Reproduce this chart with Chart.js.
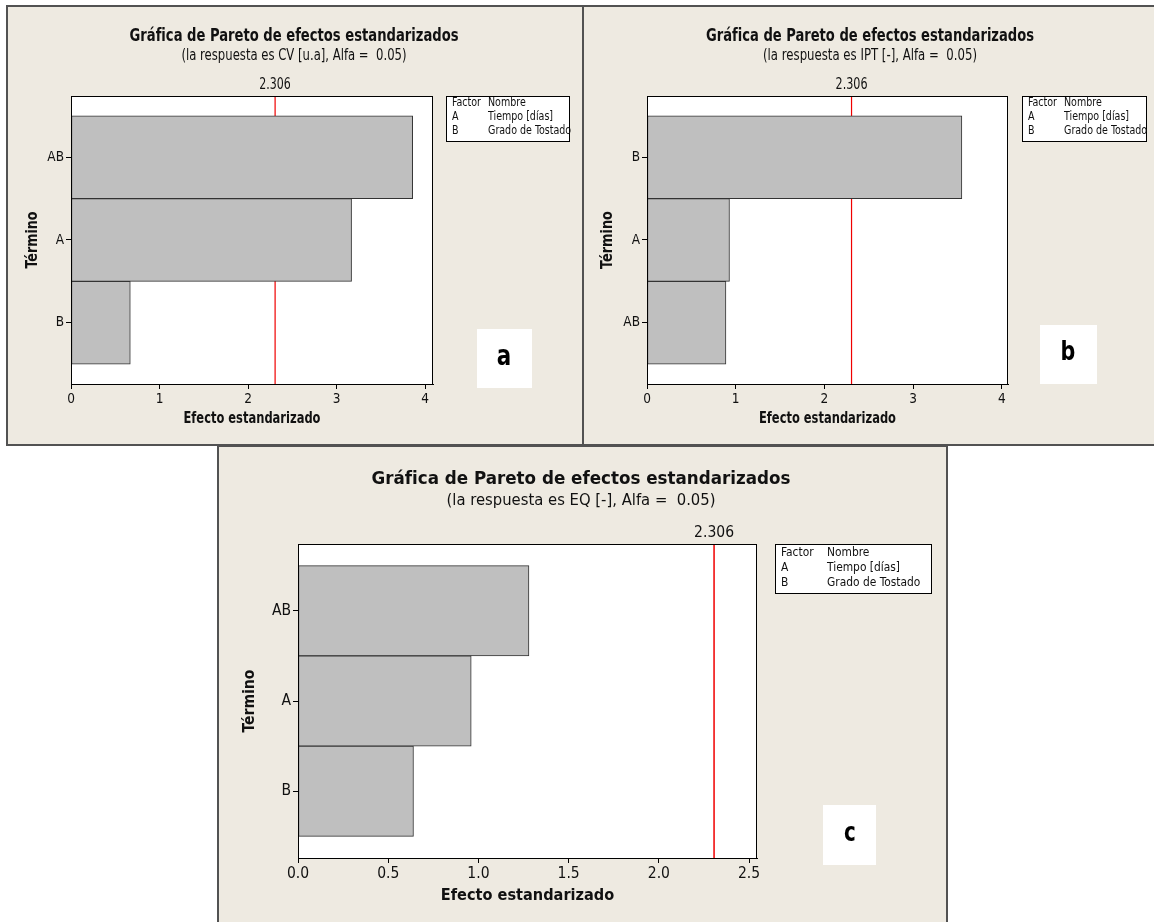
<!DOCTYPE html>
<html lang="es">
<head>
<meta charset="utf-8">
<title>Gráfica de Pareto de efectos estandarizados</title>
<script src="https://cdn.jsdelivr.net/npm/chart.js@4.4.1/dist/chart.umd.min.js"></script>
<style>
    html, body { margin: 0; padding: 0; background: #fff; width: 1154px; height: 922px; overflow: hidden; }
    .panel { position: absolute; box-sizing: border-box; background: #eeeae1; border: 2px solid #525252; }
    #panel-a { left: 6px; top: 5px; width: 578px; height: 441px; }
    #panel-b { left: 582px; top: 5px; width: 590px; height: 441px; }
    #panel-c { left: 217px; top: 445px; width: 731px; height: 500px; }
    canvas { position: absolute; left: 0; top: 0; width: 1154px; height: 922px; }
</style>
</head>
<body>
<div class="panel" id="panel-a"></div>
<div class="panel" id="panel-b"></div>
<div class="panel" id="panel-c"></div>
<canvas id="chart-a" width="1154" height="922"></canvas>
<canvas id="chart-b" width="1154" height="922"></canvas>
<canvas id="chart-c" width="1154" height="922"></canvas>
<script>
// ===== Data =====
const termsA = ['AB', 'A', 'B'];
const effectsA = [3.86, 3.17, 0.67];

const termsB = ['B', 'A', 'AB'];
const effectsB = [3.55, 0.93, 0.89];

const termsC = ['AB', 'A', 'B'];
const effectsC = [1.28, 0.96, 0.64];

const ticksAB = [0, 1, 2, 3, 4];
const ticksC = [0, 0.5, 1.0, 1.5, 2.0, 2.5];

const criticalValue = 2.306;

const chartTitle = 'Gráfica de Pareto de efectos estandarizados';
const subtitleA = '(la respuesta es CV [u.a], Alfa =  0.05)';
const subtitleB = '(la respuesta es IPT [-], Alfa =  0.05)';
const subtitleC = '(la respuesta es EQ [-], Alfa =  0.05)';
const xAxisTitle = 'Efecto estandarizado';
const yAxisTitle = 'Término';

const legendRows = [
    ['Factor', 'Nombre'],
    ['A', 'Tiempo [días]'],
    ['B', 'Grado de Tostado']
];

const FONT = "'DejaVu Sans Condensed', 'DejaVu Sans', sans-serif";
const PAGE_W = 1154;
const PAGE_H = 922;

// term axis runs from Y_MIN to Y_MAX, terms sit at 1, 2, 3 (bars touch each other)
const Y_MIN = 0.26;
const Y_MAX = 3.74;

// Page layout of each panel (page pixels). Text widths are squeezed to the
// reference because the original font is much narrower than anything installed.
const panels = [
    {
        id: 'chart-a', terms: termsA, effects: effectsA, ticks: ticksAB, xMax: 4.09, decimals: 0,
        subtitle: subtitleA, letter: 'a',
        area: { left: 71, top: 96, right: 433, bottom: 384 },
        title: { x: 294, y: 37, w: 329, size: 17 },
        sub: { y: 56, w: 225, size: 15 },
        crit: { y: 85, w: 31.5, size: 15 },
        xTitle: { y: 419, w: 137, size: 15 },
        yTitle: { x: 33, w: 57, size: 15.5 },
        legend: { x: 446, y: 96, w: 123, h: 45, cols: [452, 488], rows: [103, 117, 131], size: 11.5, sx: 0.92 },
        letterBox: { x: 477, y: 329, w: 55, h: 59, cx: 504, cy: 358, size: 28 },
        tickSize: 13.5, lineWidth: 1.2
    },
    {
        id: 'chart-b', terms: termsB, effects: effectsB, ticks: ticksAB, xMax: 4.07, decimals: 0,
        subtitle: subtitleB, letter: 'b',
        area: { left: 647, top: 96, right: 1008, bottom: 384 },
        title: { x: 870, y: 37, w: 328, size: 17 },
        sub: { y: 56, w: 214, size: 15 },
        crit: { y: 85, w: 32, size: 15 },
        xTitle: { y: 419, w: 137, size: 15 },
        yTitle: { x: 608, w: 58, size: 15.5 },
        legend: { x: 1022, y: 96, w: 124, h: 45, cols: [1028, 1064], rows: [103, 117, 131], size: 11.5, sx: 0.92 },
        letterBox: { x: 1040, y: 325, w: 57, h: 59, cx: 1068, cy: 353, size: 27 },
        tickSize: 13.5, lineWidth: 1.2
    },
    {
        id: 'chart-c', terms: termsC, effects: effectsC, ticks: ticksC, xMax: 2.544, decimals: 1,
        subtitle: subtitleC, letter: 'c',
        area: { left: 298, top: 544, right: 757, bottom: 858 },
        title: { x: 581, y: 479, w: 419, size: 18.5 },
        sub: { y: 501, w: 269, size: 15.5 },
        crit: { y: 533, w: 40, size: 15.5 },
        xTitle: { y: 896, w: 173.5, size: 15.5 },
        yTitle: { x: 250, w: 63, size: 16.5 },
        legend: { x: 775, y: 544, w: 156, h: 49, cols: [781, 827], rows: [553, 568, 583], size: 12.5, sx: 0.95 },
        letterBox: { x: 823, y: 805, w: 53, h: 60, cx: 850, cy: 834, size: 26 },
        tickSize: 15.5, lineWidth: 1.5
    }
];

// draw text scaled horizontally so it spans `width` pixels
function drawSqueezed(ctx, text, x, y, width, rotation) {
    const sx = width / ctx.measureText(text).width;
    ctx.save();
    ctx.translate(x, y);
    if (rotation) ctx.rotate(rotation);
    ctx.scale(sx, 1);
    ctx.fillText(text, 0, 0);
    ctx.restore();
}

function drawScaled(ctx, text, x, y, sx) {
    ctx.save();
    ctx.translate(x, y);
    ctx.scale(sx, 1);
    ctx.fillText(text, 0, 0);
    ctx.restore();
}

// White plot box, frame, titles, legend table and panel letter
function makeDecor(p) {
    return {
        id: 'paretoDecor',
        beforeDraw(chart) {
            const { ctx, chartArea: a } = chart;
            ctx.save();
            ctx.fillStyle = '#ffffff';
            ctx.fillRect(a.left, a.top, a.right - a.left, a.bottom - a.top);
            ctx.restore();
        },
        afterDraw(chart) {
            const { ctx, chartArea: a } = chart;
            const xScale = chart.scales.x;
            ctx.save();

            // plot frame
            ctx.strokeStyle = '#000';
            ctx.lineWidth = 1;
            ctx.strokeRect(Math.round(a.left) + 0.5, Math.round(a.top) + 0.5,
                Math.round(a.right - a.left) - 1, Math.round(a.bottom - a.top));

            ctx.fillStyle = '#111';
            ctx.textAlign = 'center';
            ctx.textBaseline = 'middle';

            ctx.font = `bold ${p.title.size}px ${FONT}`;
            drawSqueezed(ctx, chartTitle, p.title.x, p.title.y, p.title.w);
            ctx.font = `${p.sub.size}px ${FONT}`;
            drawSqueezed(ctx, p.subtitle, p.title.x, p.sub.y, p.sub.w);

            // critical value label over the reference line
            ctx.font = `${p.crit.size}px ${FONT}`;
            drawSqueezed(ctx, criticalValue.toFixed(3), xScale.getPixelForValue(criticalValue), p.crit.y, p.crit.w);

            // axis titles
            ctx.font = `bold ${p.xTitle.size}px ${FONT}`;
            drawSqueezed(ctx, xAxisTitle, (a.left + a.right) / 2, p.xTitle.y, p.xTitle.w);
            ctx.font = `bold ${p.yTitle.size}px ${FONT}`;
            drawSqueezed(ctx, yAxisTitle, p.yTitle.x, (a.top + a.bottom) / 2, p.yTitle.w, -Math.PI / 2);

            // legend table
            const lg = p.legend;
            ctx.fillStyle = '#fff';
            ctx.fillRect(lg.x, lg.y, lg.w, lg.h);
            ctx.strokeStyle = '#000';
            ctx.strokeRect(lg.x + 0.5, lg.y + 0.5, lg.w, lg.h);
            ctx.fillStyle = '#111';
            ctx.textAlign = 'left';
            ctx.font = `${lg.size}px ${FONT}`;
            legendRows.forEach((row, i) => {
                drawScaled(ctx, row[0], lg.cols[0], lg.rows[i], lg.sx);
                drawScaled(ctx, row[1], lg.cols[1], lg.rows[i], lg.sx);
            });

            // panel letter
            const lb = p.letterBox;
            ctx.fillStyle = '#fff';
            ctx.fillRect(lb.x, lb.y, lb.w, lb.h);
            ctx.fillStyle = '#000';
            ctx.textAlign = 'center';
            ctx.font = `bold ${lb.size}px ${FONT}`;
            drawScaled(ctx, p.letter, lb.cx, lb.cy, 0.85);

            ctx.restore();
        }
    };
}

function buildPareto(p) {
    const padLeft = p.yTitle.x - 12;
    const xBoxBottom = p.xTitle.y + 12;
    const positions = p.terms.map((t, i) => i + 1);

    const barData = p.terms.map((t, i) => ({ x: p.effects[i], y: positions[i] }));

    return new Chart(document.getElementById(p.id), {
        type: 'bar',
        data: {
            datasets: [{
                type: 'bar',
                data: barData,
                backgroundColor: '#bfbfbf',
                borderColor: '#333333',
                borderWidth: 1,
                borderSkipped: false,
                barPercentage: 1,
                categoryPercentage: 1,
                order: 0
            }, {
                // reference line at the critical t value
                type: 'line',
                data: [{ x: criticalValue, y: Y_MIN }, { x: criticalValue, y: Y_MAX }],
                borderColor: '#f00000',
                borderWidth: p.lineWidth,
                pointRadius: 0,
                fill: false,
                order: 1
            }]
        },
        options: {
            indexAxis: 'y',
            responsive: false,
            animation: false,
            events: [],
            layout: {
                padding: {
                    left: padLeft,
                    top: p.area.top,
                    right: PAGE_W - p.area.right,
                    bottom: PAGE_H - xBoxBottom
                }
            },
            plugins: {
                legend: { display: false },
                tooltip: { enabled: false }
            },
            scales: {
                x: {
                    type: 'linear',
                    min: 0,
                    max: p.xMax,
                    offset: false,
                    afterBuildTicks: scale => { scale.ticks = p.ticks.map(v => ({ value: v })); },
                    afterFit: scale => { scale.height = xBoxBottom - p.area.bottom; },
                    ticks: {
                        color: '#111',
                        padding: 2,
                        maxRotation: 0,
                        font: { family: FONT, size: p.tickSize },
                        callback: v => Number(v).toFixed(p.decimals)
                    },
                    grid: { drawOnChartArea: false, drawTicks: true, tickLength: 5, color: '#000', offset: false },
                    border: { display: true, color: '#000' },
                    title: { display: false }
                },
                y: {
                    type: 'linear',
                    reverse: true,
                    min: Y_MIN,
                    max: Y_MAX,
                    offset: false,
                    afterBuildTicks: scale => { scale.ticks = positions.map(v => ({ value: v })); },
                    afterFit: scale => { scale.width = p.area.left - padLeft; },
                    ticks: {
                        color: '#111',
                        padding: 2,
                        font: { family: FONT, size: p.tickSize },
                        callback: v => p.terms[Math.round(v) - 1]
                    },
                    grid: { drawOnChartArea: false, drawTicks: true, tickLength: 5, color: '#000', offset: false },
                    border: { display: true, color: '#000' },
                    title: { display: false }
                }
            }
        },
        plugins: [makeDecor(p)]
    });
}

panels.forEach(buildPareto);
</script>
</body>
</html>
